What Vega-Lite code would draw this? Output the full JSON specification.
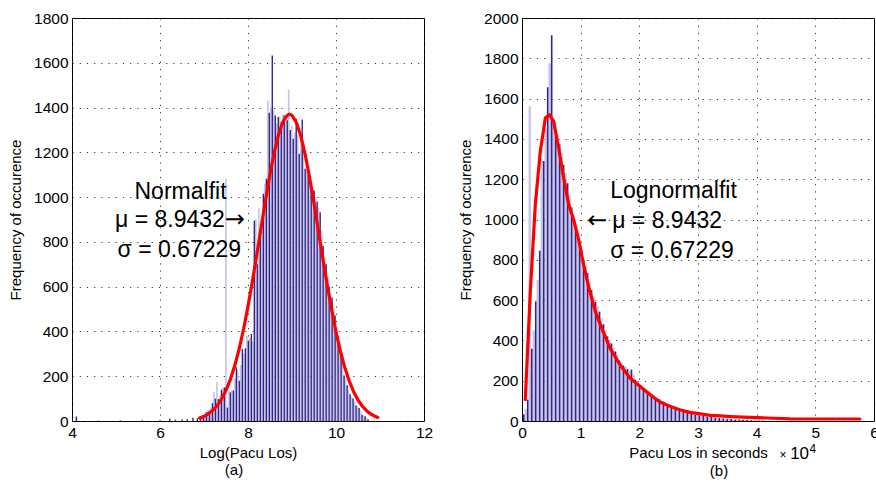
{
  "$schema": "https://vega.github.io/schema/vega-lite/v6.json",
  "background": "white",
  "padding": {"left": 8, "top": 10, "right": 0, "bottom": 0},
  "spacing": 24,
  "config": {
    "view": {"stroke": "#000", "strokeWidth": 1},
    "font": "Liberation Sans",
    "axis": {
      "labelFont": "Liberation Sans", "labelFontSize": 15.5, "labelColor": "#000",
      "titleFont": "Liberation Sans", "titleFontSize": 15, "titleFontWeight": "normal", "titleColor": "#000",
      "grid": true, "gridColor": "#222", "gridDash": [1.2, 6], "gridOpacity": 0.9, "gridWidth": 1,
      "domain": false, "ticks": false, "labelPadding": 4, "titlePadding": 5, "labelFlush": false, "labelOverlap": false,
      "format": "d"
    },
    "axisY": {"titlePadding": 10},
    "title": {"font": "Liberation Sans", "fontSize": 15, "fontWeight": "normal", "color": "#000"}
  },
  "datasets": {
    "leftDark": [
      {"x": 4.1, "n": 20}, {"x": 4.6, "n": 2}, {"x": 5.1, "n": 3}, {"x": 5.6, "n": 3}, {"x": 6.0, "n": 4},
      {"x": 6.22, "n": 10}, {"x": 6.35, "n": 6}, {"x": 6.5, "n": 7}, {"x": 6.62, "n": 8}, {"x": 6.75, "n": 14}, {"x": 6.85, "n": 12},
      {"x": 6.92, "n": 15}, {"x": 6.988, "n": 25}, {"x": 7.056, "n": 40}, {"x": 7.124, "n": 45}, {"x": 7.192, "n": 80},
      {"x": 7.26, "n": 100}, {"x": 7.328, "n": 98}, {"x": 7.396, "n": 140}, {"x": 7.464, "n": 150}, {"x": 7.532, "n": 60},
      {"x": 7.6, "n": 128}, {"x": 7.668, "n": 136}, {"x": 7.736, "n": 240}, {"x": 7.804, "n": 180}, {"x": 7.872, "n": 322},
      {"x": 7.94, "n": 325}, {"x": 8.008, "n": 359}, {"x": 8.076, "n": 389}, {"x": 8.144, "n": 895}, {"x": 8.212, "n": 700},
      {"x": 8.28, "n": 828}, {"x": 8.348, "n": 1015}, {"x": 8.416, "n": 1082}, {"x": 8.484, "n": 1377}, {"x": 8.552, "n": 1633},
      {"x": 8.62, "n": 1365}, {"x": 8.688, "n": 1358}, {"x": 8.756, "n": 1335}, {"x": 8.824, "n": 1365}, {"x": 8.892, "n": 1343},
      {"x": 8.96, "n": 1300}, {"x": 9.028, "n": 1261}, {"x": 9.096, "n": 1350}, {"x": 9.164, "n": 1194}, {"x": 9.232, "n": 1347},
      {"x": 9.3, "n": 1127}, {"x": 9.368, "n": 1100}, {"x": 9.436, "n": 1036}, {"x": 9.504, "n": 1029}, {"x": 9.572, "n": 980},
      {"x": 9.64, "n": 932}, {"x": 9.708, "n": 783}, {"x": 9.776, "n": 700}, {"x": 9.844, "n": 600}, {"x": 9.912, "n": 552},
      {"x": 9.98, "n": 471}, {"x": 10.048, "n": 374}, {"x": 10.116, "n": 314}, {"x": 10.184, "n": 203}, {"x": 10.252, "n": 160},
      {"x": 10.32, "n": 120}, {"x": 10.388, "n": 101}, {"x": 10.456, "n": 69}, {"x": 10.524, "n": 58}, {"x": 10.592, "n": 28},
      {"x": 10.66, "n": 21}, {"x": 10.728, "n": 8}
    ],
    "leftLight": [
      {"x": 6.954, "n": 20}, {"x": 7.022, "n": 30}, {"x": 7.09, "n": 50}, {"x": 7.158, "n": 60}, {"x": 7.226, "n": 130},
      {"x": 7.294, "n": 173}, {"x": 7.362, "n": 110}, {"x": 7.43, "n": 150}, {"x": 7.498, "n": 1081}, {"x": 7.566, "n": 135},
      {"x": 7.634, "n": 140}, {"x": 7.702, "n": 190}, {"x": 7.77, "n": 230}, {"x": 7.838, "n": 250}, {"x": 7.906, "n": 300},
      {"x": 7.974, "n": 381}, {"x": 8.042, "n": 370}, {"x": 8.11, "n": 355}, {"x": 8.178, "n": 900}, {"x": 8.246, "n": 950},
      {"x": 8.314, "n": 900}, {"x": 8.382, "n": 1060}, {"x": 8.45, "n": 1432}, {"x": 8.518, "n": 1400}, {"x": 8.586, "n": 1390},
      {"x": 8.654, "n": 1330}, {"x": 8.722, "n": 1360}, {"x": 8.79, "n": 1370}, {"x": 8.858, "n": 1350}, {"x": 8.926, "n": 1481},
      {"x": 8.994, "n": 1320}, {"x": 9.062, "n": 1290}, {"x": 9.13, "n": 1280}, {"x": 9.198, "n": 1260}, {"x": 9.266, "n": 1240},
      {"x": 9.334, "n": 1120}, {"x": 9.402, "n": 1070}, {"x": 9.47, "n": 1040}, {"x": 9.538, "n": 1000}, {"x": 9.606, "n": 950},
      {"x": 9.674, "n": 850}, {"x": 9.742, "n": 731}, {"x": 9.81, "n": 650}, {"x": 9.878, "n": 570}, {"x": 9.946, "n": 510},
      {"x": 10.014, "n": 420}, {"x": 10.082, "n": 340}, {"x": 10.15, "n": 260}, {"x": 10.218, "n": 190}, {"x": 10.286, "n": 140},
      {"x": 10.354, "n": 110}, {"x": 10.422, "n": 85}, {"x": 10.49, "n": 64}, {"x": 10.558, "n": 45}, {"x": 10.626, "n": 25},
      {"x": 10.694, "n": 15}
    ],
    "leftFit": [
      {"x": 6.9, "n": 13.5}, {"x": 7.0, "n": 21}, {"x": 7.1, "n": 31.9}, {"x": 7.2, "n": 47.5}, {"x": 7.3, "n": 69.1},
      {"x": 7.4, "n": 98.3}, {"x": 7.5, "n": 136.8}, {"x": 7.6, "n": 186.2}, {"x": 7.7, "n": 247.8}, {"x": 7.8, "n": 322.8},
      {"x": 7.9, "n": 411}, {"x": 8.0, "n": 512}, {"x": 8.1, "n": 623.9}, {"x": 8.2, "n": 743.6}, {"x": 8.3, "n": 866.8},
      {"x": 8.4, "n": 988.5}, {"x": 8.5, "n": 1102.4}, {"x": 8.6, "n": 1202.6}, {"x": 8.7, "n": 1283.3}, {"x": 8.8, "n": 1339.3},
      {"x": 8.9, "n": 1367.2}, {"x": 8.9432, "n": 1370}, {"x": 9.0, "n": 1365.1}, {"x": 9.1, "n": 1333.3}, {"x": 9.2, "n": 1273.5},
      {"x": 9.3, "n": 1190}, {"x": 9.4, "n": 1087.5}, {"x": 9.5, "n": 972.2}, {"x": 9.6, "n": 850.1}, {"x": 9.7, "n": 727.1},
      {"x": 9.8, "n": 608.2}, {"x": 9.9, "n": 497.6}, {"x": 10.0, "n": 398.2}, {"x": 10.1, "n": 311.8}, {"x": 10.2, "n": 238.7},
      {"x": 10.3, "n": 178.8}, {"x": 10.4, "n": 130.9}, {"x": 10.5, "n": 93.8}, {"x": 10.6, "n": 65.8}, {"x": 10.7, "n": 45.1},
      {"x": 10.8, "n": 30.2}, {"x": 10.9, "n": 19.8}, {"x": 10.95, "n": 15.9}
    ],
    "rightDark": [
      {"x": 300, "n": 33}, {"x": 980, "n": 106}, {"x": 1660, "n": 359}, {"x": 2340, "n": 594}, {"x": 3020, "n": 845},
      {"x": 3700, "n": 1290}, {"x": 4380, "n": 1656}, {"x": 5060, "n": 1914}, {"x": 5740, "n": 1413}, {"x": 6420, "n": 1374},
      {"x": 7100, "n": 1272}, {"x": 7780, "n": 1180}, {"x": 8460, "n": 1060}, {"x": 9140, "n": 960}, {"x": 9820, "n": 880},
      {"x": 10500, "n": 800}, {"x": 11180, "n": 734}, {"x": 11860, "n": 650}, {"x": 12540, "n": 590}, {"x": 13220, "n": 543},
      {"x": 13900, "n": 480}, {"x": 14580, "n": 420}, {"x": 15260, "n": 385}, {"x": 15940, "n": 345}, {"x": 16620, "n": 300},
      {"x": 17300, "n": 275}, {"x": 17980, "n": 258}, {"x": 18660, "n": 255}, {"x": 19340, "n": 205}, {"x": 20020, "n": 180},
      {"x": 20700, "n": 165}, {"x": 21380, "n": 150}, {"x": 22060, "n": 135}, {"x": 22740, "n": 118}, {"x": 23420, "n": 108},
      {"x": 24100, "n": 96}, {"x": 24780, "n": 84}, {"x": 25460, "n": 74}, {"x": 26140, "n": 64}, {"x": 26820, "n": 55},
      {"x": 27500, "n": 48}, {"x": 28180, "n": 42}, {"x": 28860, "n": 37}, {"x": 29540, "n": 32}, {"x": 30220, "n": 28},
      {"x": 30900, "n": 25}, {"x": 31580, "n": 22}, {"x": 32260, "n": 20}, {"x": 32940, "n": 17}, {"x": 33620, "n": 15},
      {"x": 34300, "n": 13}, {"x": 34980, "n": 11}, {"x": 35660, "n": 10}, {"x": 36340, "n": 8}, {"x": 37020, "n": 7},
      {"x": 37700, "n": 6}, {"x": 38380, "n": 5}, {"x": 39060, "n": 4}, {"x": 39740, "n": 3}, {"x": 40420, "n": 3},
      {"x": 41100, "n": 2}
    ],
    "rightLight": [
      {"x": 640, "n": 60}, {"x": 1320, "n": 1562}, {"x": 2000, "n": 450}, {"x": 2680, "n": 700}, {"x": 3360, "n": 1300},
      {"x": 4040, "n": 1450}, {"x": 4720, "n": 1776}, {"x": 5400, "n": 1500}, {"x": 6080, "n": 1400}, {"x": 6760, "n": 1330},
      {"x": 7440, "n": 1230}, {"x": 8120, "n": 1120}, {"x": 8800, "n": 1010}, {"x": 9480, "n": 930}, {"x": 10160, "n": 850},
      {"x": 10840, "n": 770}, {"x": 11520, "n": 690}, {"x": 12200, "n": 620}, {"x": 12880, "n": 570}, {"x": 13560, "n": 510},
      {"x": 14240, "n": 450}, {"x": 14920, "n": 400}, {"x": 15600, "n": 365}, {"x": 16280, "n": 330}, {"x": 16960, "n": 290},
      {"x": 17640, "n": 268}, {"x": 18320, "n": 250}, {"x": 19000, "n": 230}, {"x": 19680, "n": 195}, {"x": 20360, "n": 176},
      {"x": 21040, "n": 160}, {"x": 21720, "n": 145}, {"x": 22400, "n": 128}, {"x": 23080, "n": 114}, {"x": 23760, "n": 102},
      {"x": 24440, "n": 90}, {"x": 25120, "n": 80}, {"x": 25800, "n": 70}, {"x": 26480, "n": 60}, {"x": 27160, "n": 52},
      {"x": 27840, "n": 45}, {"x": 28520, "n": 40}, {"x": 29200, "n": 35}, {"x": 29880, "n": 30}, {"x": 30560, "n": 27},
      {"x": 31240, "n": 24}, {"x": 31920, "n": 21}, {"x": 32600, "n": 19}, {"x": 33280, "n": 16}, {"x": 33960, "n": 14},
      {"x": 34640, "n": 12}, {"x": 35320, "n": 11}, {"x": 36000, "n": 9}, {"x": 36680, "n": 8}, {"x": 37360, "n": 6},
      {"x": 38040, "n": 5}, {"x": 38720, "n": 4}, {"x": 39400, "n": 3}, {"x": 40080, "n": 3}, {"x": 40760, "n": 2}
    ],
    "rightFit": [
      {"x": 560, "n": 106}, {"x": 1420, "n": 644}, {"x": 2270, "n": 1074}, {"x": 3120, "n": 1338}, {"x": 3980, "n": 1504},
      {"x": 4660, "n": 1520}, {"x": 5400, "n": 1487}, {"x": 6250, "n": 1355}, {"x": 7100, "n": 1206}, {"x": 7960, "n": 1074},
      {"x": 8800, "n": 1000}, {"x": 9660, "n": 900}, {"x": 10500, "n": 776}, {"x": 11400, "n": 660}, {"x": 12500, "n": 544},
      {"x": 13600, "n": 460}, {"x": 15000, "n": 362}, {"x": 16700, "n": 279}, {"x": 18400, "n": 213}, {"x": 20100, "n": 172},
      {"x": 21800, "n": 131}, {"x": 23500, "n": 94}, {"x": 25200, "n": 73}, {"x": 26900, "n": 56}, {"x": 28600, "n": 43},
      {"x": 30400, "n": 35}, {"x": 32100, "n": 28}, {"x": 33800, "n": 25}, {"x": 35500, "n": 22}, {"x": 38900, "n": 18},
      {"x": 41700, "n": 15}, {"x": 45700, "n": 11}, {"x": 57600, "n": 10}
    ]
  },
  "hconcat": [
    {
      "width": 352,
      "height": 403,
      "title": {"text": "(a)", "orient": "bottom", "anchor": "middle", "dx": -14, "offset": 2},
      "layer": [
        {
          "data": {"name": "leftLight"},
          "mark": {"type": "bar", "size": 1.7, "color": "#c9c5e5"},
          "encoding": {
            "x": {"field": "x", "type": "quantitative", "scale": {"domain": [4, 12], "nice": false, "padding": 0},
                  "axis": {"values": [4, 6, 8, 10, 12], "title": "Log(Pacu Los)"}},
            "y": {"field": "n", "type": "quantitative", "scale": {"domain": [0, 1800], "nice": false, "padding": 0},
                  "axis": {"values": [0, 200, 400, 600, 800, 1000, 1200, 1400, 1600, 1800], "title": "Frequency of occurence"}}
          }
        },
        {
          "data": {"name": "leftDark"},
          "mark": {"type": "bar", "size": 1.4, "color": "#30258a"},
          "encoding": {
            "x": {"field": "x", "type": "quantitative"},
            "y": {"field": "n", "type": "quantitative"}
          }
        },
        {
          "data": {"name": "leftFit"},
          "mark": {"type": "line", "color": "#ff0000", "strokeWidth": 3.2, "strokeCap": "round", "strokeJoin": "round"},
          "encoding": {
            "x": {"field": "x", "type": "quantitative"},
            "y": {"field": "n", "type": "quantitative"}
          }
        },
        {
          "data": {"values": [{}]},
          "mark": {"type": "text", "fontSize": 23, "align": "center", "baseline": "alphabetic", "color": "#000"},
          "encoding": {"x": {"datum": 6.466}, "y": {"datum": 990}, "text": {"value": "Normalfit"}}
        },
        {
          "data": {"values": [{}]},
          "mark": {"type": "text", "fontSize": 23, "align": "right", "baseline": "alphabetic", "color": "#000"},
          "encoding": {"x": {"datum": 7.474}, "y": {"datum": 865}, "text": {"value": "μ = 8.9432"}}
        },
        {
          "data": {"values": [{}]},
          "mark": {"type": "text", "font": "DejaVu Sans", "fontSize": 24, "align": "left", "baseline": "alphabetic", "color": "#000"},
          "encoding": {"x": {"datum": 7.474}, "y": {"datum": 865}, "text": {"value": "→"}}
        },
        {
          "data": {"values": [{}]},
          "mark": {"type": "text", "fontSize": 23, "align": "center", "baseline": "alphabetic", "color": "#000"},
          "encoding": {"x": {"datum": 6.44}, "y": {"datum": 731}, "text": {"value": "σ = 0.67229"}}
        }
      ]
    },
    {
      "width": 352,
      "height": 403,
      "title": {"text": "(b)", "orient": "bottom", "anchor": "middle", "dx": 21, "offset": 2},
      "layer": [
        {
          "data": {"name": "rightLight"},
          "mark": {"type": "bar", "size": 2.4, "color": "#c9c5e5"},
          "encoding": {
            "x": {"field": "x", "type": "quantitative", "scale": {"domain": [0, 60000], "nice": false, "padding": 0},
                  "axis": {"values": [0, 10000, 20000, 30000, 40000, 50000, 60000], "labelExpr": "format(datum.value / 10000, 'd')", "title": "Pacu Los in seconds"}},
            "y": {"field": "n", "type": "quantitative", "scale": {"domain": [0, 2000], "nice": false, "padding": 0},
                  "axis": {"values": [0, 200, 400, 600, 800, 1000, 1200, 1400, 1600, 1800, 2000], "title": "Frequency of occurence"}}
          }
        },
        {
          "data": {"name": "rightDark"},
          "mark": {"type": "bar", "size": 1.6, "color": "#30258a"},
          "encoding": {
            "x": {"field": "x", "type": "quantitative"},
            "y": {"field": "n", "type": "quantitative"}
          }
        },
        {
          "data": {"name": "rightFit"},
          "mark": {"type": "line", "color": "#ff0000", "strokeWidth": 3.2, "strokeCap": "round", "strokeJoin": "round"},
          "encoding": {
            "x": {"field": "x", "type": "quantitative"},
            "y": {"field": "n", "type": "quantitative"}
          }
        },
        {
          "data": {"values": [{}]},
          "mark": {"type": "text", "fontSize": 23, "align": "left", "baseline": "alphabetic", "color": "#000"},
          "encoding": {"x": {"datum": 15040}, "y": {"datum": 1107}, "text": {"value": "Lognormalfit"}}
        },
        {
          "data": {"values": [{}]},
          "mark": {"type": "text", "font": "DejaVu Sans", "fontSize": 24, "align": "left", "baseline": "alphabetic", "color": "#000"},
          "encoding": {"x": {"datum": 11120}, "y": {"datum": 958}, "text": {"value": "←"}}
        },
        {
          "data": {"values": [{}]},
          "mark": {"type": "text", "fontSize": 23, "align": "left", "baseline": "alphabetic", "color": "#000"},
          "encoding": {"x": {"datum": 15380}, "y": {"datum": 958}, "text": {"value": "μ = 8.9432"}}
        },
        {
          "data": {"values": [{}]},
          "mark": {"type": "text", "fontSize": 23, "align": "left", "baseline": "alphabetic", "color": "#000"},
          "encoding": {"x": {"datum": 15040}, "y": {"datum": 809}, "text": {"value": "σ = 0.67229"}}
        },
        {
          "data": {"values": [{}]},
          "mark": {"type": "text", "fontSize": 12, "align": "left", "baseline": "alphabetic", "color": "#000", "dy": 38},
          "encoding": {"x": {"datum": 43880}, "y": {"datum": 0}, "text": {"value": "×"}}
        },
        {
          "data": {"values": [{}]},
          "mark": {"type": "text", "fontSize": 17, "align": "left", "baseline": "alphabetic", "color": "#000", "dy": 38},
          "encoding": {"x": {"datum": 45710}, "y": {"datum": 0}, "text": {"value": "10"}}
        },
        {
          "data": {"values": [{}]},
          "mark": {"type": "text", "fontSize": 12, "align": "left", "baseline": "alphabetic", "color": "#000", "dy": 32},
          "encoding": {"x": {"datum": 48990}, "y": {"datum": 0}, "text": {"value": "4"}}
        }
      ]
    }
  ]
}
